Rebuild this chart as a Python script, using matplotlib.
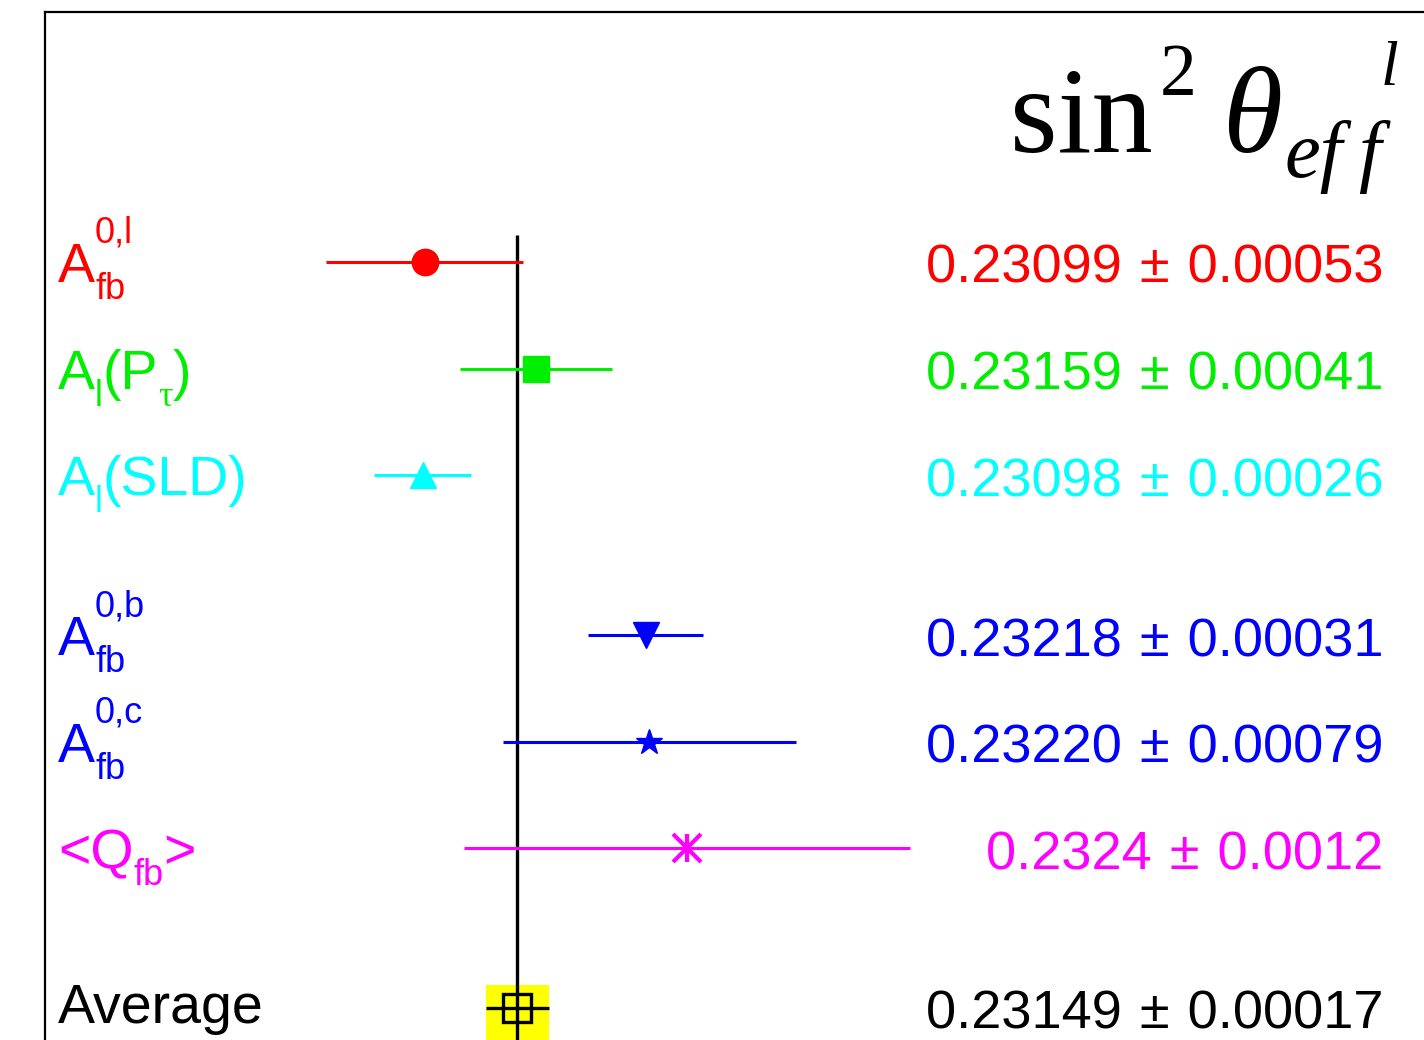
import matplotlib
matplotlib.use("Agg")
import matplotlib.pyplot as plt
from matplotlib.patches import Rectangle

plt.rcParams['font.family'] = ['Liberation Sans', 'DejaVu Sans']

# measurements of sin^2 theta_eff (leptonic)
label_parts = [
    [[('A', 'main')], [('fb', 'sub'), ('0,l', 'sup')]],
    [[('A', 'main')], [('l', 'sub')], [('(P', 'main')], [('\u03c4', 'sub')], [(')', 'main')]],
    [[('A', 'main')], [('l', 'sub')], [('(SLD)', 'main')]],
    [[('A', 'main')], [('fb', 'sub'), ('0,b', 'sup')]],
    [[('A', 'main')], [('fb', 'sub'), ('0,c', 'sup')]],
    [[('<Q', 'main')], [('fb', 'sub')], [('>', 'main')]],
]
values = [0.23099, 0.23159, 0.23098, 0.23218, 0.23220, 0.2324]
errors = [0.00053, 0.00041, 0.00026, 0.00031, 0.00079, 0.0012]
value_text = ['0.23099\u2004\u00b1\u20040.00053', '0.23159\u2004\u00b1\u20040.00041',
              '0.23098\u2004\u00b1\u20040.00026', '0.23218\u2004\u00b1\u20040.00031',
              '0.23220\u2004\u00b1\u20040.00079', '0.2324\u2004\u00b1\u20040.0012']
rows = [0, 1, 2, 3.5, 4.5, 5.5]
colors = ['#ff0000', '#00ee00', '#00ffff', '#0000ff', '#0000ff', '#ff00ff']
markers = ['o', 's', '^', 'v', '*', 'x']

avg_value = 0.23149
avg_error = 0.00017
avg_text = '0.23149\u2004\u00b1\u20040.00017'
avg_row = 7

W, H = 1424, 1040
fig = plt.figure(figsize=(W / 100, H / 100), dpi=100)
ax = fig.add_axes([45 / W, 0, (W - 45) / W, (H - 12) / H])
ax.set_xlim(0.228947, 0.236369)
ax.set_ylim(7.298, -2.345)
ax.set_xticks([])
ax.set_yticks([])
for side in ['right', 'bottom']:
    ax.spines[side].set_visible(False)
for side in ['left', 'top']:
    ax.spines[side].set_linewidth(1.6)

# average band and reference line
ax.add_patch(Rectangle((avg_value - avg_error, avg_row - 0.22), 2 * avg_error, 1.0,
                       facecolor='#ffff00', edgecolor='none', zorder=1))
ax.vlines(avg_value, -0.25, 7.4, color='black', lw=2.4, zorder=2)

for y, v, e, c, m in zip(rows, values, errors, colors, markers):
    ms = 19
    mew = 1
    if m == 'x':
        ms, mew = 20, 3
    ax.errorbar(v, y, xerr=e, fmt=m, color=c, ms=ms, mew=mew, lw=2.2,
                capsize=0, zorder=3)
    if m == 'x':
        ax.plot(v, y, marker='|', color=c, ms=20, mew=3, zorder=3)

ax.errorbar(avg_value, avg_row, xerr=avg_error, fmt='s', color='black', mfc='none',
            ms=20, mew=2.4, lw=2.4, capsize=0, zorder=3)

renderer = fig.canvas.get_renderer()


def row_px(y):
    # pixel row (from the top) of a data y value
    return H - ax.transData.transform((0, y))[1]


def put(x, y, s, size, color, **kw):
    return fig.text(x / W, 1 - y / H, s, fontsize=size, color=color,
                    ha='left', va='baseline', **kw)


script_style = {'main': (40, 0), 'sub': (26, 17), 'sup': (26, -39)}


def draw_label(groups, y, color):
    x = 58
    base = row_px(y) + 20
    for group in groups:
        widest = 0
        for s, kind in group:
            size, dy = script_style[kind]
            kw = {'family': 'Liberation Serif'} if s == '\u03c4' else {}
            t = put(x, base + dy, s, size, color, **kw)
            widest = max(widest, t.get_window_extent(renderer).width)
        x += widest


vx = 1383 / W
for y, parts, txt, c in zip(rows, label_parts, value_text, colors):
    draw_label(parts, y, c)
    fig.text(vx, 1 - (row_px(y) + 21) / H, txt, color=c, fontsize=39,
             ha='right', va='baseline')
put(58, row_px(avg_row) + 15, 'Average', 40, 'black')
fig.text(vx, 1 - (row_px(avg_row) + 20) / H, avg_text, color='black', fontsize=39,
         ha='right', va='baseline')

# sin^2 theta_eff^l heading
serif = 'Liberation Serif'
put(1010, 152, 'sin', 88, 'black', family=serif)
put(1160, 95, '2', 53, 'black', family=serif)
put(1222, 152, '\u03b8', 88, 'black', family=serif, style='italic')
put(1285, 177, 'ef', 58, 'black', family=serif, style='italic')
put(1358, 177, 'f', 58, 'black', family=serif, style='italic')
put(1381, 85, 'l', 46, 'black', family=serif, style='italic')

fig.savefig('out.png', dpi=100)
